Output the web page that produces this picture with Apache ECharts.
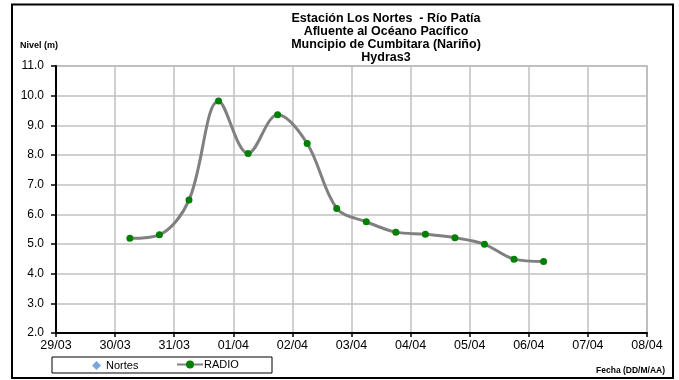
<!DOCTYPE html>
<html>
<head>
<meta charset="utf-8">
<script src="https://cdn.jsdelivr.net/npm/echarts@6/dist/echarts.min.js"></script>
<style>html,body{margin:0;padding:0;background:#fff}#c{width:679px;height:380px}</style>
</head>
<body>
<div id="c"></div>
<script>
const titleLines = ['Estación Los Nortes  - Río Patía', 'Afluente al Océano Pacífico', 'Muncipio de Cumbitara (Nariño)', 'Hydras3'];
const xTickLabels = ['29/03','30/03','31/03','01/04','02/04','03/04','04/04','05/04','06/04','07/04','08/04'];
const radioTimes = ['30/03 06:00','30/03 18:00','31/03 06:00','31/03 18:00','01/04 06:00','01/04 18:00','02/04 06:00','02/04 18:00','03/04 06:00','03/04 18:00','04/04 06:00','04/04 18:00','05/04 06:00','05/04 18:00','06/04 06:00'];
const radioValues = [5.19, 5.31, 6.48, 9.82, 8.05, 9.36, 8.39, 6.20, 5.75, 5.40, 5.33, 5.21, 4.99, 4.49, 4.41];
const nortesValues = [];

// convert 'DD/MM HH:mm' to days since 29/03 00:00
function toDays(s){
  const [d, t] = s.split(' ');
  const [dd, mm] = d.split('/').map(Number);
  const [hh, mi] = (t || '00:00').split(':').map(Number);
  const dayIdx = mm === 3 ? dd - 29 : dd + 2;
  return dayIdx + (hh + mi / 60) / 24;
}
const radioData = radioTimes.map((t, i) => [toDays(t), radioValues[i]]);

const chart = echarts.init(document.getElementById('c'));
const F = 'Arial, "Liberation Sans", sans-serif';
chart.setOption({
  animation: false,
  backgroundColor: '#fff',
  grid: { left: 56, right: 32, top: 66, bottom: 47, show: true, borderColor: '#a6a6a6', borderWidth: 1.5, containLabel: false },
  xAxis: {
    type: 'value', min: 0, max: 10, interval: 1,
    axisLine: { show: true, onZero: false, lineStyle: { color: '#000', width: 2 } },
    axisTick: { show: true, length: 4, lineStyle: { color: '#000', width: 1.5 } },
    axisLabel: { margin: 6, color: '#000', fontFamily: F, fontSize: 12.5, formatter: v => xTickLabels[Math.round(v)] },
    splitLine: { show: true, lineStyle: { color: '#c0c0c0', width: 1.5 } }
  },
  yAxis: {
    type: 'value', min: 2, max: 11, interval: 1,
    axisLine: { show: true, lineStyle: { color: '#000', width: 2 } },
    axisTick: { show: true, length: 5, lineStyle: { color: '#000', width: 1.5 } },
    axisLabel: { margin: 12, color: '#000', fontFamily: F, fontSize: 12, formatter: v => v.toFixed(1) },
    splitLine: { show: true, lineStyle: { color: '#c0c0c0', width: 1.5 } }
  },
  legend: [
    { data: ['Nortes'], left: 92, top: 360, itemWidth: 9, itemHeight: 9, padding: 0,
      textStyle: { color: '#000', fontFamily: F, fontSize: 11 } },
    { data: ['RADIO'], left: 176, top: 359, itemWidth: 26, itemHeight: 10, padding: 0,
      textStyle: { color: '#000', fontFamily: F, fontSize: 11, padding: [0,0,0,-4] } }
  ],
  graphic: [
    { type: 'rect', shape: { x: 12, y: 4.5, width: 661, height: 373.5 }, style: { fill: null, stroke: '#000', lineWidth: 2 }, silent: true },
    { type: 'rect', shape: { x: 52, y: 357, width: 220, height: 16 }, style: { fill: null, stroke: '#000', lineWidth: 1 }, silent: true },
    { type: 'text', x: 386, y: 12, style: { text: titleLines.join('\n'), textAlign: 'center', font: 'bold 12.5px ' + F, lineHeight: 13, fill: '#000' } },
    { type: 'text', x: 20, y: 41, style: { text: 'Nivel (m)', font: 'bold 9px ' + F, fill: '#000' } },
    { type: 'text', x: 665, y: 366, style: { text: 'Fecha (DD/M/AA)', textAlign: 'right', font: 'bold 8.5px ' + F, fill: '#000' } }
  ],
  series: [
    { name: 'Nortes', type: 'scatter', data: nortesValues, symbol: 'diamond', symbolSize: 9, itemStyle: { color: '#5b8fd0' } },
    { name: 'RADIO', type: 'line', data: radioData, smooth: 0.35, symbol: 'circle', symbolSize: 7,
      lineStyle: { color: '#808080', width: 3 }, itemStyle: { color: '#008000', borderWidth: 0 } }
  ]
});
</script>
</body>
</html>
